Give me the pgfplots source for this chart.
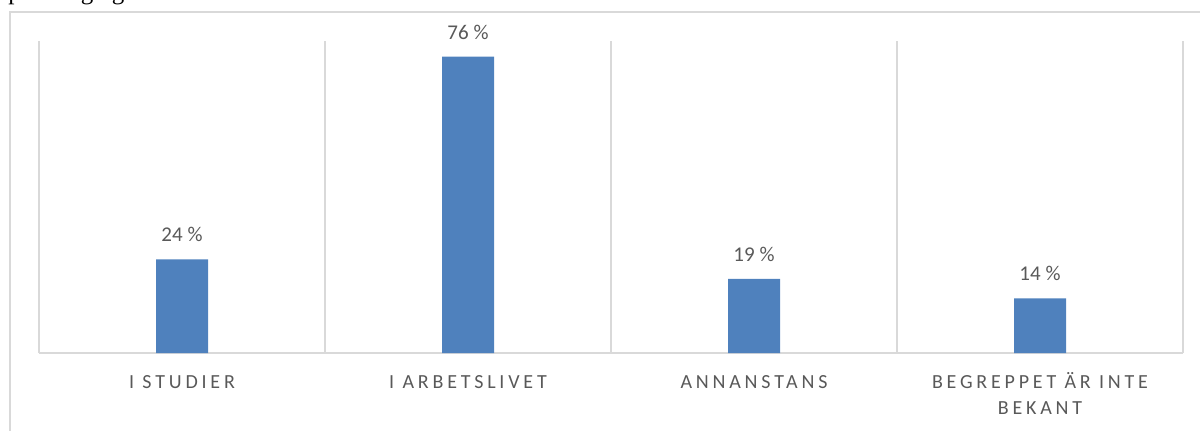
\documentclass[border=0pt]{standalone}
\usepackage{pgfplots}
\pgfplotsset{compat=1.18}
\usepackage{fontspec}
\setmainfont{Carlito}
\newfontfamily\spaced[LetterSpace=19]{Carlito}
\newfontfamily\seriffont{Liberation Serif}
\definecolor{barblue}{HTML}{4F81BD}
\definecolor{txtgray}{HTML}{595959}
\definecolor{gridgray}{HTML}{D9D9D9}
\newcommand{\lblstrut}{\rule{0pt}{9pt}}
\begin{document}
\begin{tikzpicture}
\useasboundingbox (0pt,0pt) rectangle (600pt,215pt);
% cut-off text line above the chart (only descenders visible)
\node[anchor=base west, inner sep=0pt, font=\seriffont\fontsize{12.5}{14}\selectfont] at (4pt,215.5pt) {p};
\node[anchor=base, inner sep=0pt, font=\seriffont\fontsize{12.5}{14}\selectfont] at (43.5pt,215.5pt) {g};
\node[anchor=base, inner sep=0pt, font=\seriffont\fontsize{12.5}{14}\selectfont] at (59pt,215.5pt) {g};
% chart frame
\draw[gridgray, line width=0.75pt] (5pt,-1pt) -- (5pt,209pt) -- (601pt,209pt);
\begin{axis}[
  at={(19.5pt,38.5pt)}, anchor=south west,
  scale only axis, width=572pt, height=156pt,
  xmin=-0.5, xmax=3.5, ymin=0, ymax=80,
  separate axis lines,
  axis x line=bottom, axis y line=none,
  x axis line style={gridgray, line width=0.75pt, -},
  ybar, bar width=26pt,
  xtick={0,1,2,3},
  xticklabels={\lblstrut I STUDIER, \lblstrut I ARBETSLIVET, \lblstrut ANNANSTANS, {\lblstrut BEGREPPET ÄR INTE\\BEKANT}},
  major tick length=0pt, minor tick length=0pt,
  minor xtick={-0.5,0.5,1.5,2.5,3.5},
  xminorgrids=true,
  minor grid style={gridgray, line width=0.75pt},
  ytick=\empty,
  xticklabel style={font=\spaced\fontsize{10}{13}\selectfont, text=txtgray, align=center, anchor=north, inner sep=0pt, yshift=-8.5pt},
  nodes near coords={\pgfmathprintnumber[assume math mode=true]{\pgfplotspointmeta}~\%},
  every node near coord/.append style={font=\fontsize{10.5}{12}\selectfont, text=txtgray, inner sep=0pt, anchor=south, yshift=8.5pt},
  clip=false,
]
\addplot[fill=barblue, draw=none] coordinates {(0,24) (1,76) (2,19) (3,14)};
\end{axis}
\end{tikzpicture}
\end{document}
